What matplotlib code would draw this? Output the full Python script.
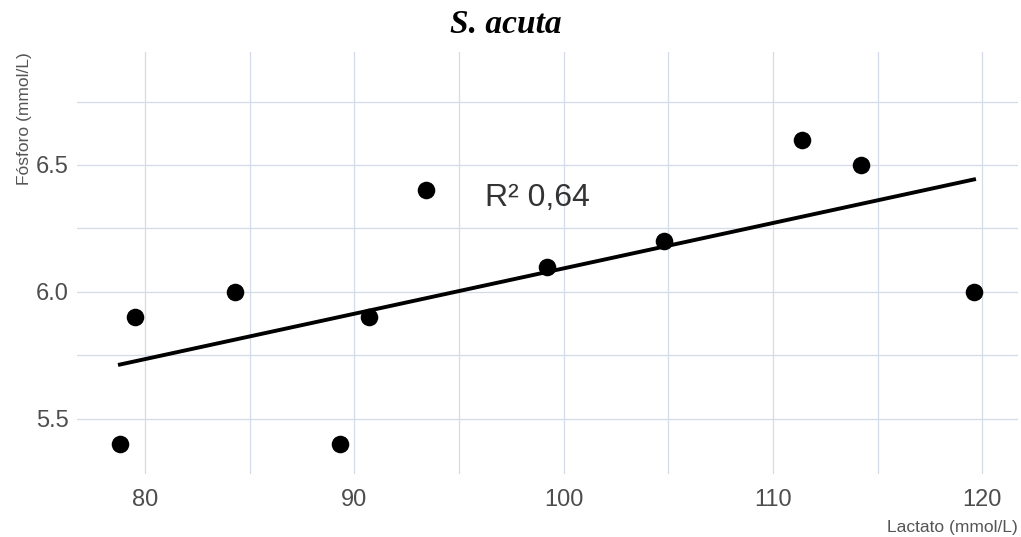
import numpy as np
import matplotlib.pyplot as plt
from matplotlib.ticker import MultipleLocator

plt.rcParams["font.family"] = ["Liberation Sans", "DejaVu Sans"]

# datos
lactato = [78.8, 79.5, 84.3, 89.3, 90.7, 93.4, 99.2, 104.8, 111.4, 114.2, 119.6]
fosforo = [5.4, 5.9, 6.0, 5.4, 5.9, 6.4, 6.1, 6.2, 6.6, 6.5, 6.0]
r2_label = "R² 0,64"
x_ticks = [80, 90, 100, 110, 120]
y_ticks = [5.5, 6.0, 6.5]
y_ticklabels = ["5.5", "6.0", "6.5"]

fig = plt.figure(figsize=(10.21, 5.37), dpi=100)
# panel: x 77..1018 px, y 52..474 px
ax = fig.add_axes([77 / 1021, 1 - 474 / 537, 941 / 1021, 422 / 537])

grid_col = "#d3dbe8"
ax.set_xlim(76.75, 121.7)
ax.set_ylim(5.283, 6.945)
ax.set_xticks(x_ticks)
ax.set_yticks(y_ticks)
ax.set_yticklabels(y_ticklabels)
ax.xaxis.set_minor_locator(MultipleLocator(5))
ax.yaxis.set_minor_locator(MultipleLocator(0.25))
ax.grid(True, which="both", color=grid_col, linewidth=0.9)
ax.set_axisbelow(True)
for s in ax.spines.values():
    s.set_visible(False)
ax.tick_params(which="both", length=0, labelsize=17, labelcolor="#4d4d4d")
ax.tick_params(axis="x", pad=11)
ax.tick_params(axis="y", pad=6)

# recta de regresión
m, b = np.polyfit(lactato, fosforo, 1)
xs = np.array([min(lactato), max(lactato)])
ax.plot(xs, m * xs + b, color="black", linewidth=2.8, zorder=2)

ax.scatter(lactato, fosforo, s=160, color="black", zorder=3, linewidths=0)

ax.text(96.25, 6.37, r2_label, fontsize=23, color="#333333", va="center", ha="left")

ax.set_xlabel("Lactato (mmol/L)", fontsize=12.5, color="#555555", loc="right", labelpad=6)
ax.set_ylabel("Fósforo (mmol/L)", fontsize=12.5, color="#555555", loc="top", labelpad=3)

fig.text(0.495, 0.955, "S. acuta", fontsize=24, fontweight="bold", fontstyle="italic",
         family="Liberation Serif", ha="center", va="center")

fig.savefig("out.png", dpi=100)
